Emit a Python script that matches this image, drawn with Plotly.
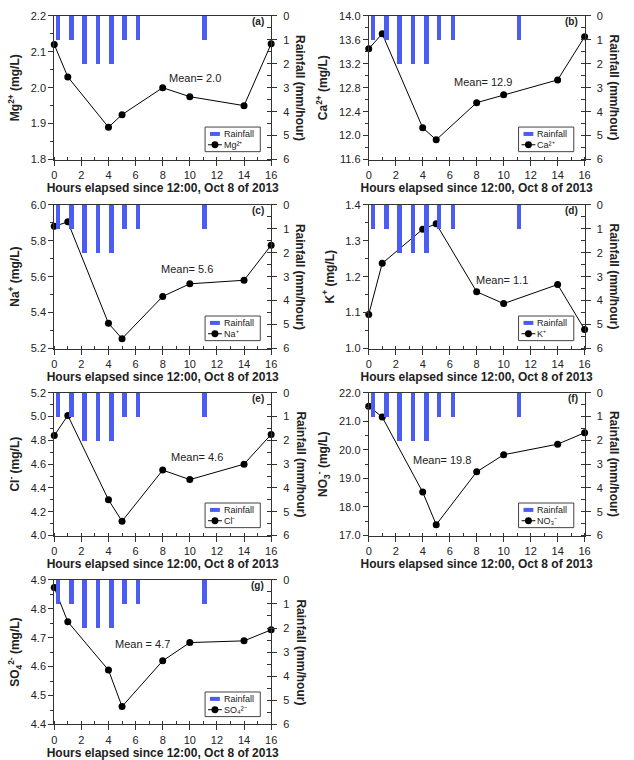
import plotly.graph_objects as go

# ---------------- data ----------------
hours = [0, 1, 4, 5, 8, 10, 14, 16]
rain_hours = [0.3, 1.3, 2.25, 3.25, 4.25, 5.2, 6.2, 11.1]
rainfall = [1, 1, 2, 2, 2, 1, 1, 1]

mg = [2.12, 2.03, 1.89, 1.925, 2.00, 1.975, 1.95, 2.122]
ca = [13.45, 13.70, 12.13, 11.93, 12.55, 12.68, 12.93, 13.65]
na = [5.88, 5.905, 5.34, 5.255, 5.49, 5.56, 5.58, 5.775]
k = [1.095, 1.237, 1.332, 1.347, 1.158, 1.125, 1.178, 1.053]
cl = [4.84, 5.01, 4.30, 4.12, 4.55, 4.47, 4.60, 4.85]
no3 = [21.53, 21.15, 18.52, 17.38, 19.23, 19.83, 20.20, 20.60]
so4 = [4.873, 4.755, 4.588, 4.462, 4.620, 4.683, 4.689, 4.727]

ion_names = ["Mg<sup>2+</sup>", "Ca<sup>2+</sup>", "Na<sup>+</sup>", "K<sup>+</sup>",
             "Cl<sup>-</sup>", "NO<sub>3</sub><sup>-</sup>", "SO<sub>4</sub><sup>2-</sup>"]
legend_names = ["Mg²⁺", "Ca²⁺", "Na⁺", "K⁺", "Cl⁻", "NO₃⁻", "SO₄²⁻"]
ion_values = [mg, ca, na, k, cl, no3, so4]
panel_labels = ["(a)", "(b)", "(c)", "(d)", "(e)", "(f)", "(g)"]
mean_texts = ["Mean= 2.0", "Mean= 12.9", "Mean= 5.6", "Mean= 1.1",
              "Mean= 4.6", "Mean= 19.8", "Mean = 4.7"]
y_ranges = [(1.8, 2.2), (11.6, 14.0), (5.2, 6.0), (1.0, 1.4),
            (4.0, 5.2), (17.0, 22.0), (4.4, 4.9)]
y_dticks = [0.1, 0.4, 0.2, 0.1, 0.2, 1.0, 0.1]

# ---------------- layout helpers ----------------
W, H = 634, 760
col_px = [(52, 272), (371, 590)]
row_px = [(10, 156), (202, 348), (393, 538), (583, 730)]
mean_pos = [(10.4, 2.027), (8.5, 12.89), (9.8, 5.64), (9.9, 1.192),
            (10.5, 4.66), (5.4, 19.64), (6.5, 4.679)]

FONT = "Liberation Sans, Arial, sans-serif"
AXC = "#333333"
BLUE = "#4b5cf2"


def px(x):
    return x / W


def py(y):
    return 1 - y / H


fig = go.Figure()
annotations = []
shapes = []
layout = dict(
    width=W, height=H, margin=dict(l=0, r=0, t=0, b=0),
    paper_bgcolor="white", plot_bgcolor="white",
    font=dict(family=FONT, size=11, color="#222"),
    showlegend=False, bargap=0,
)

for i in range(7):
    n = i + 1
    r, c = divmod(i, 2)
    x0, x1 = col_px[c]
    y0, y1 = row_px[r]
    xd = [px(x0), px(x1)]
    yd = [py(y1), py(y0)]
    xa = "x" if n == 1 else f"x{n}"
    yl = 2 * n - 1
    yr = 2 * n
    yla = "y" if yl == 1 else f"y{yl}"
    yra = f"y{yr}"

    fig.add_trace(go.Bar(
        x=rain_hours, y=rainfall, width=0.32, name="Rainfall",
        marker=dict(color=BLUE, line=dict(width=0)),
        xaxis=xa, yaxis=yra,
    ))
    fig.add_trace(go.Scatter(
        x=hours, y=ion_values[i], mode="lines+markers", name=legend_names[i],
        line=dict(color="black", width=1),
        marker=dict(color="black", size=7),
        cliponaxis=False, xaxis=xa, yaxis=yla,
    ))

    xkey = "xaxis" if n == 1 else f"xaxis{n}"
    layout[xkey] = dict(
        domain=xd, anchor=yla, range=[0, 16], dtick=2, tick0=0,
        showline=True, linecolor=AXC, linewidth=1, mirror=True,
        ticks="outside", ticklen=5, tickcolor=AXC,
        minor=dict(dtick=1, ticks="inside", ticklen=3, tickcolor=AXC),
        showgrid=False, zeroline=False,
        tickfont=dict(size=11, color="#222"),
        title=dict(text="<b>Hours elapsed since 12:00, Oct 8 of 2013</b>",
                   font=dict(size=12, color="#222"), standoff=3),
    )
    lo, hi = y_ranges[i]
    layout["yaxis" if yl == 1 else f"yaxis{yl}"] = dict(
        domain=yd, anchor=xa, range=[lo, hi], dtick=y_dticks[i], tick0=lo,
        tickformat=".1f",
        showline=True, linecolor=AXC, linewidth=1,
        ticks="outside", ticklen=5, tickcolor=AXC,
        minor=dict(dtick=y_dticks[i] / 2, ticks="outside", ticklen=3, tickcolor=AXC),
        showgrid=False, zeroline=False,
        tickfont=dict(size=11, color="#222"),
        title=dict(text=f"<b>{ion_names[i]} (mg/L)</b>",
                   font=dict(size=12, color="#222"), standoff=8),
    )
    layout[f"yaxis{yr}"] = dict(
        domain=yd, anchor=xa, overlaying=yla, side="right",
        range=[6, 0], dtick=1, tick0=0,
        showline=True, linecolor=AXC, linewidth=1,
        ticks="outside", ticklen=5, tickcolor=AXC,
        minor=dict(dtick=0.5, ticks="inside", ticklen=4, tickcolor=AXC),
        showgrid=False, zeroline=False,
        tickfont=dict(size=11, color="#222"),
        ticklabelstandoff=4,
    )

    # ---- compact legend box (drawn like the reference) ----
    bx0, bx1 = x1 - 67, x1 - 11
    by0, by1 = y1 - 33, y1 - 8
    shapes.append(dict(type="rect", xref="paper", yref="paper",
                       x0=px(bx0), x1=px(bx1), y0=py(by1), y1=py(by0),
                       line=dict(color="#444", width=1), fillcolor="white", layer="above"))
    ry = by0 + 7
    shapes.append(dict(type="line", xref="paper", yref="paper",
                       x0=px(bx0 + 5), x1=px(bx0 + 15), y0=py(ry), y1=py(ry),
                       line=dict(color=BLUE, width=4), layer="above"))
    annotations.append(dict(x=px(bx0 + 17), y=py(ry), xref="paper", yref="paper",
                            text="Rainfall", showarrow=False, xanchor="left",
                            yanchor="middle", font=dict(size=9, color="#222")))
    ly = by0 + 18
    shapes.append(dict(type="line", xref="paper", yref="paper",
                       x0=px(bx0 + 3), x1=px(bx0 + 17), y0=py(ly), y1=py(ly),
                       line=dict(color="black", width=1), layer="above"))
    shapes.append(dict(type="circle", xref="paper", yref="paper",
                       x0=px(bx0 + 6.5), x1=px(bx0 + 13.5), y0=py(ly + 3.5), y1=py(ly - 3.5),
                       line=dict(color="black", width=0), fillcolor="black", layer="above"))
    annotations.append(dict(x=px(bx0 + 17), y=py(ly), xref="paper", yref="paper",
                            text=legend_names[i], showarrow=False, xanchor="left",
                            yanchor="middle", font=dict(size=9, color="#222")))

    # mean annotation
    mx, my = mean_pos[i]
    annotations.append(dict(
        x=mx, y=my, xref=xa, yref=yla, text=mean_texts[i], showarrow=False,
        font=dict(size=11, color="#222"),
    ))
    # panel label
    annotations.append(dict(
        x=px(x1 - 5), y=py(y0 + 6), xref="paper", yref="paper",
        text=f"<b>{panel_labels[i]}</b>", showarrow=False, xanchor="right",
        yanchor="middle", font=dict(size=10, color="#222"),
    ))
    # right axis title (reads top to bottom)
    annotations.append(dict(
        x=px(x1 + 30), y=py((y0 + y1) / 2), xref="paper", yref="paper",
        text="<b>Rainfall (mm/hour)</b>", showarrow=False, textangle=90,
        xanchor="center", yanchor="middle", font=dict(size=12, color="#222"),
    ))

layout["annotations"] = annotations
layout["shapes"] = shapes
fig.update_layout(**layout)
fig.write_html("out.html")
